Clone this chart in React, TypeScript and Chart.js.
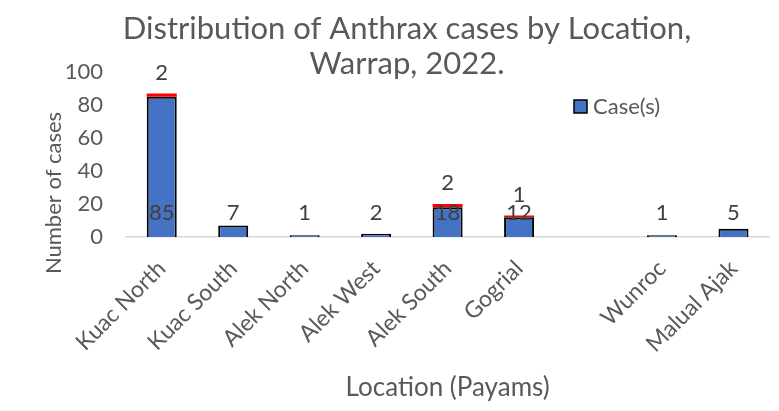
import React, { useEffect, useRef } from "react";
import { Chart, registerables } from "chart.js";

Chart.register(...registerables);

const categories = ["Kuac North", "Kuac South", "Alek North", "Alek West", "Alek South", "Gogrial", "", "Wunroc", "Malual Ajak"];
const cases = [85, 7, 1, 2, 18, 12, null, 1, 5];
const deaths = [2, null, null, null, 2, 1, null, null, null];
const titleLines = ["Distribution of Anthrax cases by Location,", "Warrap, 2022."];
const yTitle = "Number of cases";
const xTitle = "Location (Payams)";
const legendLabel = "Case(s)";
const yMin = 0;
const yMax = 100;
const yStep = 20;

const FONT = "Lato";
const GREY = "#595959";
const BLUE = "#4472C4";
const RED = "#FF0000";

const textPlugin = {
  id: "textPlugin",
  afterDatasetsDraw(chart: any) {
    const ctx = chart.ctx;
    const y = chart.scales.y;
    const m0 = chart.getDatasetMeta(0);
    const m1 = chart.getDatasetMeta(1);
    ctx.save();
    ctx.font = `22px ${FONT}`;
    ctx.fillStyle = "#404040";
    ctx.textAlign = "center";
    ctx.textBaseline = "middle";
    cases.forEach((v, i) => {
      if (v == null) return;
      const bar = m0.data[i];
      ctx.fillText(String(v), bar.x, y.getPixelForValue(0) - 24);
    });
    deaths.forEach((v, i) => {
      if (v == null) return;
      const bar = m1.data[i];
      ctx.fillText(String(v), bar.x, bar.y - 21);
    });
    ctx.restore();
  },
  afterDraw(chart: any) {
    const ctx = chart.ctx;
    ctx.save();
    // title
    ctx.fillStyle = GREY;
    ctx.textAlign = "center";
    ctx.textBaseline = "middle";
    ctx.font = `31px ${FONT}`;
    ctx.fillText(titleLines[0], 399, 21);
    ctx.fillText(titleLines[1], 399, 56);
    // y title
    ctx.save();
    ctx.translate(46, 185);
    ctx.rotate(-Math.PI / 2);
    ctx.font = `22px ${FONT}`;
    ctx.fillText(yTitle, 0, 0);
    ctx.restore();
    // legend
    ctx.fillStyle = BLUE;
    ctx.strokeStyle = "#000000";
    ctx.lineWidth = 1.5;
    ctx.fillRect(566, 92, 13, 13);
    ctx.strokeRect(566, 92, 13, 13);
    ctx.fillStyle = GREY;
    ctx.textAlign = "left";
    ctx.font = `22px ${FONT}`;
    ctx.fillText(legendLabel, 585, 99);
    ctx.restore();
  },
};

export default function App() {
  const ref = useRef<HTMLCanvasElement | null>(null);
  useEffect(() => {
    if (!ref.current) return;
    const chart = new Chart(ref.current, {
      type: "bar",
      data: {
        labels: categories,
        datasets: [
          {
            label: legendLabel,
            data: cases,
            backgroundColor: BLUE,
            borderColor: "#000000",
            borderWidth: 2,
            categoryPercentage: 1,
            barPercentage: 0.42,
          },
          {
            label: "Death(s)",
            data: deaths,
            backgroundColor: RED,
            borderWidth: 0,
            categoryPercentage: 1,
            barPercentage: 0.42,
          },
        ],
      },
      options: {
        animation: false,
        responsive: false,
        layout: { padding: { top: 64, left: 0, right: 0, bottom: 0 } },
        plugins: {
          legend: { display: false },
          title: { display: false },
          tooltip: { enabled: false },
        },
        scales: {
          x: {
            stacked: true,
            grid: { display: false, drawTicks: false },
            border: { display: true, color: "#d9d9d9", width: 1.5 },
            ticks: {
              color: GREY,
              font: { family: FONT, size: 23 },
              maxRotation: 45,
              minRotation: 45,
              padding: 18,
              autoSkip: false,
            },
            title: {
              display: true,
              text: xTitle,
              color: GREY,
              font: { family: FONT, size: 26 },
              padding: { top: 0, bottom: 0 },
            },
            afterFit: (s: any) => {
              s.height = 166;
            },
          },
          y: {
            stacked: true,
            min: yMin,
            max: yMax,
            grid: { display: false, drawTicks: false },
            border: { display: false },
            ticks: {
              stepSize: yStep,
              color: GREY,
              font: { family: FONT, size: 22 },
              padding: 23,
            },
            afterFit: (s: any) => {
              s.width = 118;
            },
          },
        },
      },
      plugins: [textPlugin],
    });
    return () => chart.destroy();
  }, []);
  return (
    <div style={{ width: 763, height: 395 }}>
      <canvas ref={ref} width={763} height={395} />
    </div>
  );
}
